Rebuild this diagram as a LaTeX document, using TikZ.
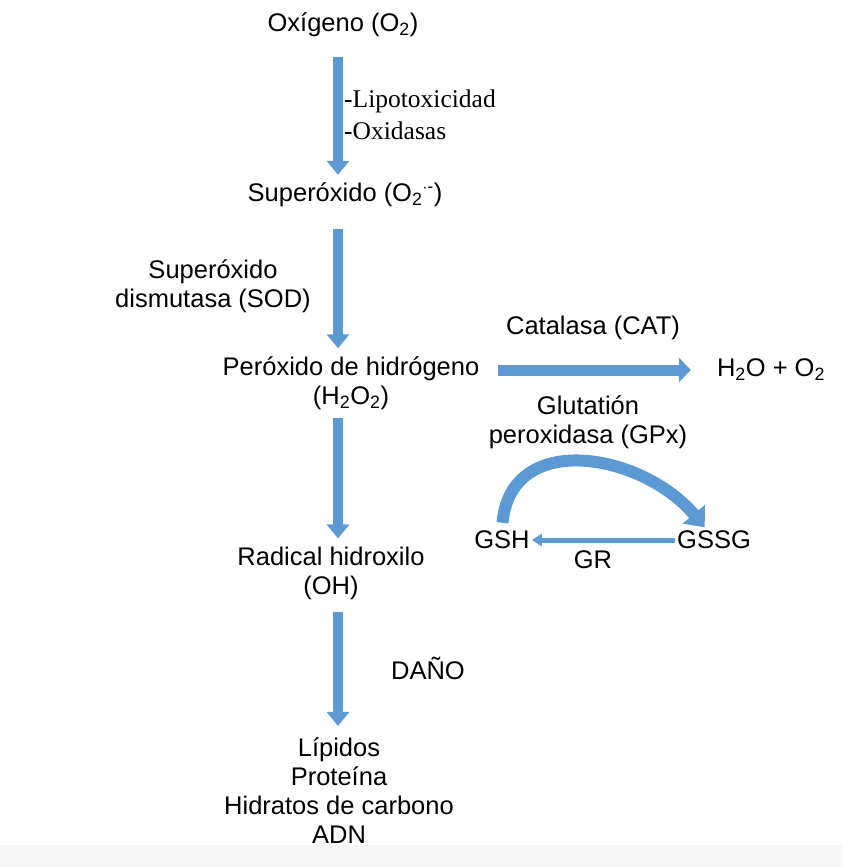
\documentclass[tikz,border=0pt]{standalone}
\usepackage{fontspec}
\setmainfont{Liberation Sans}
\newfontfamily\lipofont{Liberation Serif}
\usetikzlibrary{arrows.meta}
\definecolor{flecha}{RGB}{92,153,213}
\definecolor{franja}{RGB}{245,245,245}
\tikzset{
  txt/.style={font=\fontsize{25.5}{29}\selectfont, align=center, inner sep=2pt},
  lipo/.style={font=\lipofont\fontsize{25.5}{29}\selectfont, align=left, inner sep=0pt},
  bigarrow/.style={draw=flecha, line width=10pt, -{Triangle[width=22pt,length=14pt]}},
  catarrow/.style={draw=flecha, line width=11pt, -{Triangle[width=24pt,length=12pt]}},
  curvarrow/.style={draw=flecha, line width=12pt, -{Triangle[width=28pt,length=17pt]}},
  grarrow/.style={draw=flecha, line width=5pt, -{Triangle[width=12pt,length=10pt]}}
}

\begin{document}
\begin{tikzpicture}[x=1pt,y=-1pt]
        \useasboundingbox (0,0) rectangle (843,867);
        \fill[franja] (0,845) rectangle (843,867);
        \coordinate (col) at (338,0);

        \node[txt] (oxi) at (343,25) {Oxígeno (O\textsubscript{2})};
        \node[txt] (sup) at (345,195) {Superóxido (O\textsubscript{2}\textsuperscript{$\cdot$-})};
        \node[txt] (perox) at (351,383) {Peróxido de hidrógeno\\(H\textsubscript{2}O\textsubscript{2})};
        \node[txt] (rad) at (331,573) {Radical hidroxilo\\(OH)};
        \node[txt] (dano) at (339,791) {Lípidos\\Proteína\\Hidratos de carbono\\ADN};

        \node[lipo, anchor=west] (lipot) at (344,101) {-Lipotoxicidad};
        \node[lipo, anchor=west] (oxid) at (344,131) {-Oxidasas};
        \node[txt] (sod) at (213,286) {Superóxido\\dismutasa (SOD)};
        \node[txt] (dlbl) at (428,668) {DAÑO};

        \node[txt] (prod) at (771,370) {H\textsubscript{2}O + O\textsubscript{2}};
        \node[txt] (cat) at (593,328) {Catalasa (CAT)};
        \node[txt] (gpx) at (588,422) {Glutatión\\peroxidasa (GPx)};
        \node[txt] (gsh) at (502,540) {GSH};
        \node[txt] (gssg) at (714,540) {GSSG};
        \node[txt] (gr) at (593,560) {GR};

        \draw[bigarrow, shorten <=18pt, shorten >=6pt] (oxi.south -| col) -- (sup.north -| col);
        \draw[bigarrow, shorten <=20pt, shorten >=6pt] (sup.south -| col) -- (perox.north -| col);
        \draw[bigarrow, shorten <=6pt, shorten >=6pt] (perox.south -| col) -- (rad.north -| col);
        \draw[bigarrow, shorten <=10pt, shorten >=10pt] (rad.south -| col) -- (dano.north -| col);

        \draw[catarrow, shorten <=16pt, shorten >=24pt] (perox.east |- prod) -- (prod);
        \draw[curvarrow, shorten <=6pt, shorten >=2pt] (gsh.north) to[out=85,in=130,looseness=1.25] ([xshift=-8pt]gssg.north);
        \draw[grarrow] (gssg.west) -- (gsh.east);
\end{tikzpicture}
\end{document}
